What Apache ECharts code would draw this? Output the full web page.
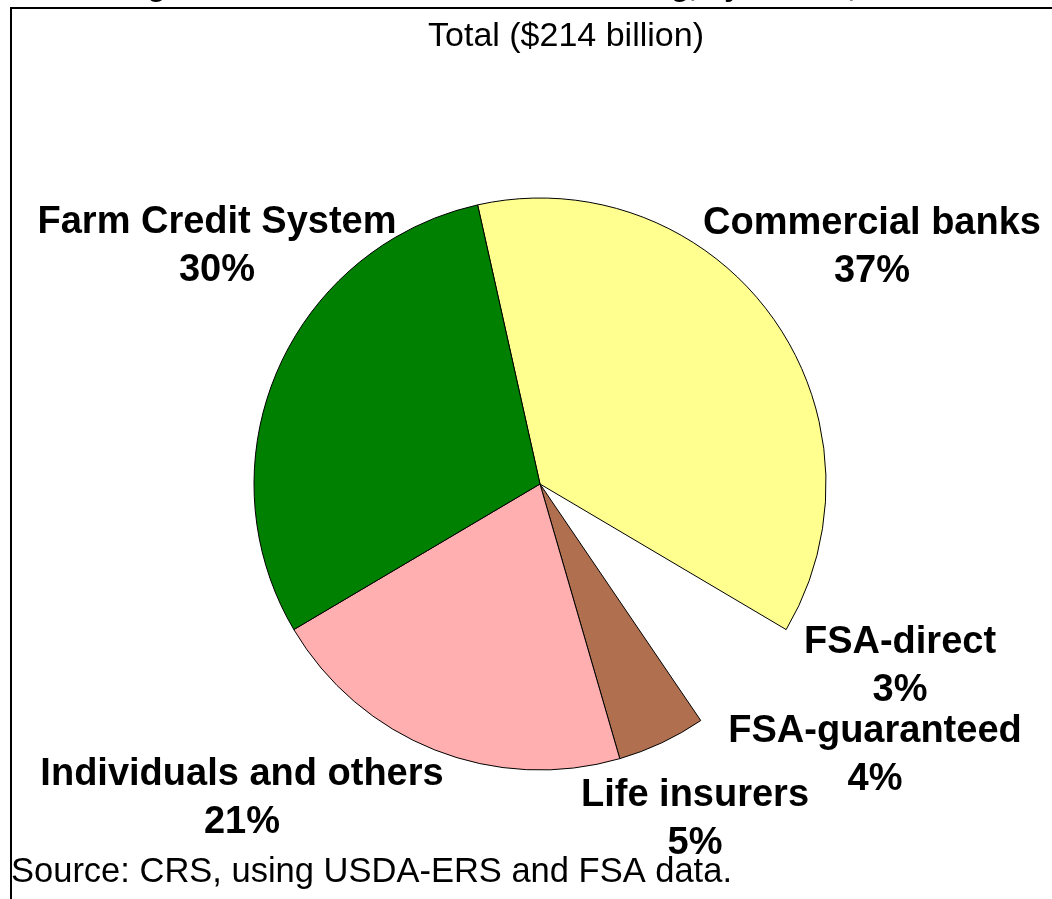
<!DOCTYPE html>
<html>
<head>
<meta charset="utf-8">
<script src="https://cdn.jsdelivr.net/npm/echarts@6/dist/echarts.min.js"></script>
<style>
html,body{margin:0;padding:0;background:#fff;}
#chart{width:1052px;height:899px;}
</style>
</head>
<body>
<div id="chart"></div>
<script>
// ---- data ----
const categories = ['Commercial banks', 'FSA-direct', 'FSA-guaranteed', 'Life insurers', 'Individuals and others', 'Farm Credit System'];
const shares = [37, 3, 4, 5, 21, 30];
const titleText = 'Figure 2. Farm Sector Debt Outstanding, by Lender, 2009';
const subtitleText = 'Total ($214 billion)';
const sourceText = 'Source: CRS, using USDA-ERS and FSA data.';

// ---- styles / positions ----
const sliceColors = ['#FFFF90', 'rgba(255,255,255,0)', 'rgba(255,255,255,0)', '#B07050', '#FFAFAF', '#008000'];
const sliceBorders = [1, 0, 0, 1, 1, 1];
const labelAnchors = [[872, 248], [900, 667], [875, 756], [695, 820], [242, 799], [217, 247]];

const FONT = '"Liberation Sans", Arial, sans-serif';
const chart = echarts.init(document.getElementById('chart'), null, {renderer: 'canvas'});

const option = {
  backgroundColor: '#fff',
  animation: false,
  graphic: [
    {type: 'rect', shape: {x: 11, y: 8, width: 1200, height: 1000}, style: {fill: 'none', stroke: '#000', lineWidth: 2}, silent: true, z: 1},
    {type: 'text', x: 526, y: 3, style: {text: titleText, font: 'bold 30px ' + FONT, fill: '#000', align: 'center', verticalAlign: 'bottom'}, silent: true},
    {type: 'text', x: 566, y: 37, style: {text: subtitleText, font: '34px ' + FONT, fill: '#000', align: 'center', verticalAlign: 'middle'}, silent: true},
    {type: 'text', x: 11, y: 872, style: {text: sourceText, font: '34.5px ' + FONT, fill: '#000', align: 'left', verticalAlign: 'middle'}, silent: true}
  ],
  series: [{
    type: 'pie',
    center: [540, 484],
    radius: 286,
    startAngle: 102.6,
    clockwise: true,
    percentPrecision: 0,
    avoidLabelOverlap: false,
    emphasis: {disabled: true},
    label: {
      show: true,
      position: 'outside',
      formatter: '{b}\n{d}%',
      fontFamily: FONT,
      fontSize: 38,
      fontWeight: 'bold',
      color: '#000',
      lineHeight: 48,
      align: 'center'
    },
    labelLine: {show: false},
    labelLayout: function (params) {
      const p = labelAnchors[params.dataIndex];
      return {x: p[0], y: p[1], align: 'center', verticalAlign: 'middle'};
    },
    data: categories.map(function (name, i) {
      return {
        name: name,
        value: shares[i],
        itemStyle: {color: sliceColors[i], borderColor: '#000', borderWidth: sliceBorders[i]}
      };
    })
  }]
};
chart.setOption(option);
</script>
</body>
</html>
